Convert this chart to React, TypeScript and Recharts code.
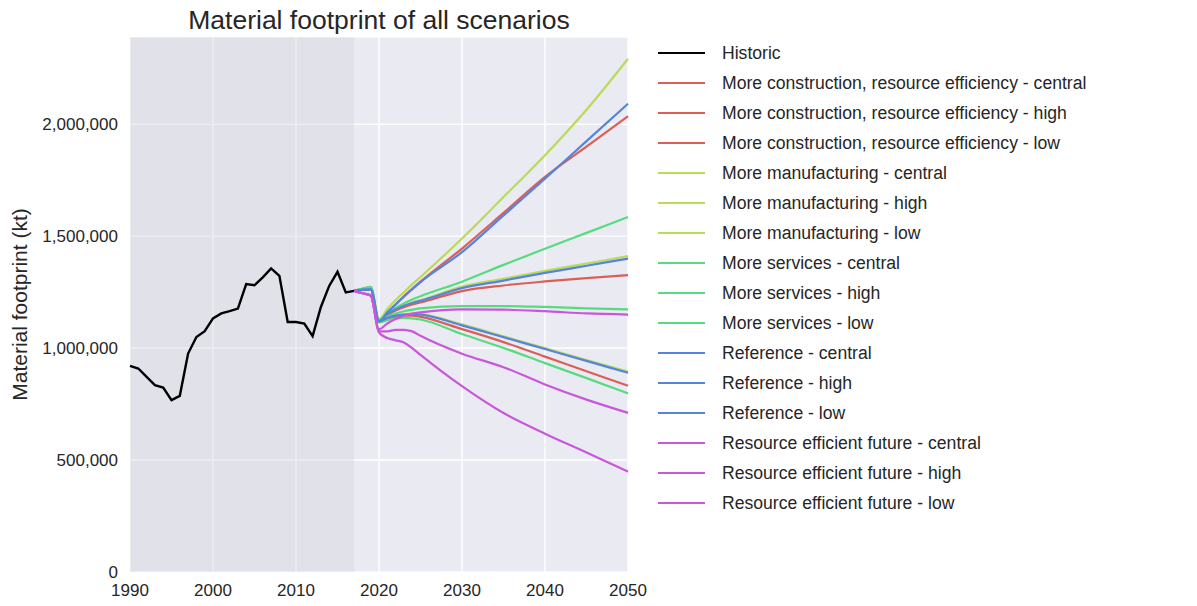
import { LineChart, Line, XAxis, YAxis, CartesianGrid, ReferenceArea } from 'recharts'

const historicYears = [
  1990, 1991, 1992, 1993, 1994, 1995, 1996, 1997, 1998, 1999, 2000, 2001, 2002, 2003,
  2004, 2005, 2006, 2007, 2008, 2009, 2010, 2011, 2012, 2013, 2014, 2015, 2016, 2017,
]
const historic = [
  921000, 909000, 872000, 835000, 824000, 768000, 787000, 976000, 1050000, 1076000,
  1133000, 1155000, 1165000, 1177000, 1286000, 1281000, 1316000, 1356000, 1323000,
  1117000, 1117000, 1110000, 1054000, 1184000, 1278000, 1341000, 1249000, 1256000,
]

const scenarioYears = [2017, 2018, 2019, 2020, 2021, 2022, 2023, 2024, 2025, 2030, 2035, 2040, 2045, 2050]

const constructionCentral = [1256000, 1262000, 1268000, 1122000, 1148000, 1168000, 1183000, 1195000, 1204000, 1255000, 1280000, 1298000, 1313000, 1326000]
const constructionHigh = [1256000, 1262000, 1268000, 1122000, 1160000, 1195000, 1232000, 1265000, 1297000, 1445000, 1604000, 1765000, 1900000, 2036000]
const constructionLow = [1256000, 1262000, 1268000, 1118000, 1132000, 1140000, 1145000, 1145000, 1140000, 1085000, 1027000, 962000, 897000, 832000]
const manufacturingCentral = [1256000, 1265000, 1274000, 1125000, 1155000, 1176000, 1192000, 1205000, 1215000, 1275000, 1310000, 1345000, 1378000, 1411000]
const manufacturingHigh = [1256000, 1265000, 1274000, 1130000, 1175000, 1215000, 1250000, 1285000, 1318000, 1490000, 1675000, 1862000, 2065000, 2293000]
const manufacturingLow = [1256000, 1265000, 1274000, 1122000, 1137000, 1147000, 1152000, 1154000, 1152000, 1106000, 1053000, 1000000, 947000, 895000]
const servicesCentral = [1256000, 1265000, 1272000, 1120000, 1140000, 1155000, 1165000, 1172000, 1178000, 1188000, 1188000, 1184000, 1178000, 1173000]
const servicesHigh = [1256000, 1265000, 1272000, 1125000, 1155000, 1180000, 1200000, 1217000, 1232000, 1297000, 1372000, 1444000, 1515000, 1586000]
const servicesLow = [1256000, 1265000, 1272000, 1115000, 1125000, 1132000, 1135000, 1133000, 1128000, 1063000, 1001000, 933000, 866000, 798000]
const referenceCentral = [1256000, 1260000, 1262000, 1120000, 1152000, 1173000, 1189000, 1202000, 1211000, 1268000, 1302000, 1336000, 1368000, 1400000]
const referenceHigh = [1256000, 1260000, 1262000, 1120000, 1160000, 1195000, 1230000, 1263000, 1295000, 1429000, 1593000, 1757000, 1925000, 2092000]
const referenceLow = [1256000, 1260000, 1262000, 1120000, 1135000, 1145000, 1150000, 1152000, 1150000, 1102000, 1049000, 996000, 943000, 890000]
const efficientCentral = [1256000, 1245000, 1235000, 1075000, 1075000, 1082000, 1082000, 1075000, 1055000, 975000, 915000, 838000, 770000, 711000]
const efficientHigh = [1256000, 1245000, 1235000, 1085000, 1110000, 1130000, 1145000, 1155000, 1160000, 1173000, 1172000, 1165000, 1155000, 1150000]
const efficientLow = [1256000, 1245000, 1235000, 1070000, 1045000, 1035000, 1025000, 1000000, 970000, 830000, 710000, 618000, 534000, 448000]

const scenarios = [
  { name: 'More construction, resource efficiency - central', color: '#db5f57', values: constructionCentral },
  { name: 'More construction, resource efficiency - high', color: '#db5f57', values: constructionHigh },
  { name: 'More construction, resource efficiency - low', color: '#db5f57', values: constructionLow },
  { name: 'More manufacturing - central', color: '#b9db57', values: manufacturingCentral },
  { name: 'More manufacturing - high', color: '#b9db57', values: manufacturingHigh },
  { name: 'More manufacturing - low', color: '#b9db57', values: manufacturingLow },
  { name: 'More services - central', color: '#57db80', values: servicesCentral },
  { name: 'More services - high', color: '#57db80', values: servicesHigh },
  { name: 'More services - low', color: '#57db80', values: servicesLow },
  { name: 'Reference - central', color: '#5784db', values: referenceCentral },
  { name: 'Reference - high', color: '#5784db', values: referenceHigh },
  { name: 'Reference - low', color: '#5784db', values: referenceLow },
  { name: 'Resource efficient future - central', color: '#c957db', values: efficientCentral },
  { name: 'Resource efficient future - high', color: '#c957db', values: efficientHigh },
  { name: 'Resource efficient future - low', color: '#c957db', values: efficientLow },
]

const xTicks = [1990, 2000, 2010, 2020, 2030, 2040, 2050]
const yTicks = [0, 500000, 1000000, 1500000, 2000000]

// merge historic + scenario years into one table keyed by year
const allYears = Array.from(new Set([...historicYears, ...scenarioYears])).sort((a, b) => a - b)
const data = allYears.map((year) => {
  const row: Record<string, number> = { year }
  const hi = historicYears.indexOf(year)
  if (hi >= 0) row.historic = historic[hi]
  const si = scenarioYears.indexOf(year)
  if (si >= 0) scenarios.forEach((s, i) => { row['s' + i] = s.values[si] })
  return row
})

const font = '"Liberation Sans", Arial, sans-serif'
const textColor = '#262626'

const legendItems = [{ name: 'Historic', color: '#000000' }, ...scenarios]

export default function App() {
  return (
    <div style={{ position: 'absolute', left: 0, top: 0, width: 1197, height: 606, background: '#fff', fontFamily: font }}>
      <div
        style={{
          position: 'absolute', left: 130, width: 498, top: 5, textAlign: 'center',
          fontSize: 26.5, color: textColor, whiteSpace: 'nowrap',
        }}
      >
        Material footprint of all scenarios
      </div>

      {/* legend, outside the plot like matplotlib's bbox_to_anchor */}
      <div style={{ position: 'absolute', left: 658, top: 38 }}>
        {legendItems.map((item) => (
          <div key={item.name} style={{ display: 'flex', alignItems: 'center', height: 30 }}>
            <div style={{ width: 47, height: 2, background: item.color, marginRight: 17 }} />
            <span style={{ fontSize: 17.6, color: textColor, whiteSpace: 'nowrap' }}>{item.name}</span>
          </div>
        ))}
      </div>

      <LineChart
        width={660}
        height={606}
        data={data}
        margin={{ top: 37, right: 32, bottom: 0, left: 0 }}
      >
        <CartesianGrid stroke="#ffffff" strokeWidth={1.2} fill="#eaeaf2" />
        <ReferenceArea x1={1990} x2={2017} fill="#d8d8e0" fillOpacity={0.45} stroke="none" ifOverflow="hidden" />
        {/* gridlines show through the historic shading */}
        <CartesianGrid stroke="#ffffff" strokeOpacity={0.55} strokeWidth={1.2} fill="none" />
        <XAxis
          dataKey="year"
          type="number"
          domain={[1990, 2050]}
          ticks={xTicks}
          height={34}
          axisLine={false}
          tickLine={false}
          tickMargin={6}
          tick={{ fill: textColor, fontSize: 17, fontFamily: font }}
        />
        <YAxis
          type="number"
          domain={[0, 2390000]}
          ticks={yTicks}
          width={130}
          axisLine={false}
          tickLine={false}
          tickMargin={6}
          tickFormatter={(v: number) => v.toLocaleString('en-US')}
          tick={{ fill: textColor, fontSize: 17, fontFamily: font }}
          label={{
            value: 'Material footprint (kt)',
            angle: -90,
            position: 'insideLeft',
            offset: 20,
            style: { fontSize: 21, fill: textColor, fontFamily: font, textAnchor: 'middle' },
          }}
        />
        <Line
          dataKey="historic"
          name="Historic"
          type="linear"
          stroke="#000000"
          strokeWidth={2.4}
          dot={false}
          isAnimationActive={false}
        />
        {scenarios.map((s, i) => (
          <Line
            key={s.name}
            dataKey={'s' + i}
            name={s.name}
            type="monotone"
            stroke={s.color}
            strokeWidth={2.2}
            dot={false}
            isAnimationActive={false}
          />
        ))}
      </LineChart>
    </div>
  )
}
